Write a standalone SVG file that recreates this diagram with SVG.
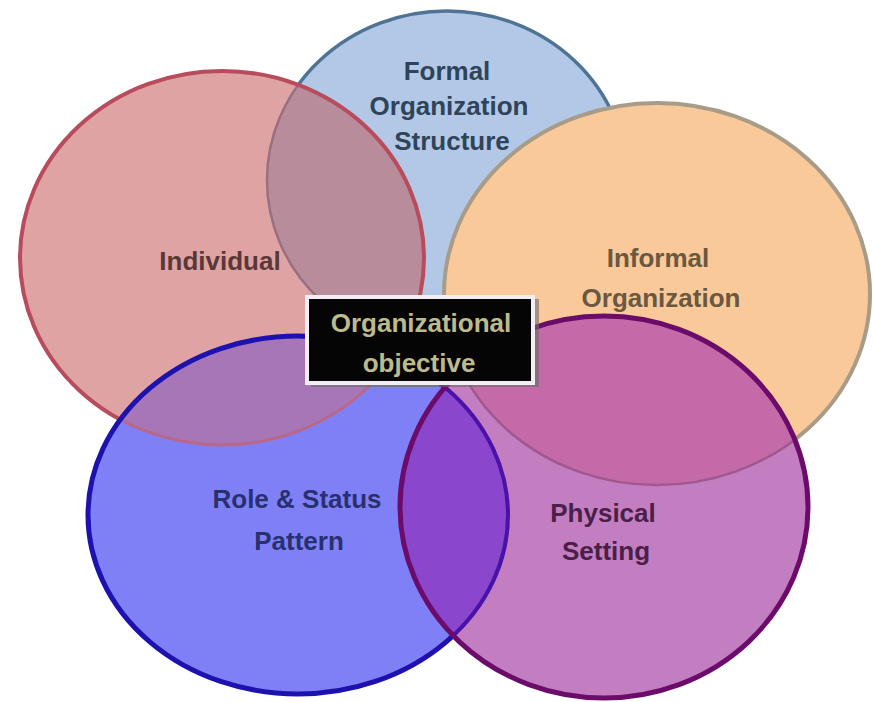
<svg xmlns="http://www.w3.org/2000/svg" width="874" height="702" viewBox="0 0 874 702">
<style>
text{font-family:"Liberation Sans",Arial,sans-serif;font-weight:bold;font-size:26px;text-anchor:middle}
.inner{fill:none}
</style>
<defs>
<clipPath id="cFormal"><ellipse cx="447" cy="180" rx="180" ry="169"/></clipPath>
<clipPath id="cInd"><ellipse cx="222" cy="258" rx="202" ry="187"/></clipPath>
<clipPath id="cInf"><ellipse cx="657" cy="294" rx="213" ry="191"/></clipPath>
<clipPath id="cRole"><ellipse cx="298" cy="515" rx="210" ry="179"/></clipPath>
<clipPath id="cPhys"><ellipse cx="604" cy="507" rx="204" ry="191"/></clipPath>
</defs>
<rect width="874" height="702" fill="#ffffff"/>

<g id="node-formal">
<ellipse cx="447" cy="180" rx="180" ry="169" fill="#b2c8e6" stroke="#4f7395" stroke-width="3.5"/>
<text x="447" y="80" fill="#2f4458">Formal</text>
<text x="449" y="115" fill="#2f4458">Organization</text>
<text x="452" y="150" fill="#2f4458">Structure</text>
</g>

<g id="node-individual">
<ellipse cx="222" cy="258" rx="202" ry="187" fill="#dfa3a3"/>
<ellipse cx="447" cy="180" rx="180" ry="169" fill="#b98c9c" clip-path="url(#cInd)"/>
<ellipse class="inner" cx="447" cy="180" rx="180" ry="169" stroke="#98707f" stroke-width="2.5" clip-path="url(#cInd)"/>
<ellipse cx="222" cy="258" rx="202" ry="187" fill="none" stroke="#b84c5c" stroke-width="4"/>
<text x="220" y="270" fill="#5a3838">Individual</text>
</g>

<g id="node-informal">
<ellipse cx="657" cy="294" rx="213" ry="191" fill="#f9c99a" stroke="#a89c88" stroke-width="4"/>
<text x="658" y="267" fill="#6a5840">Informal</text>
<text x="661" y="307" fill="#6a5840">Organization</text>
</g>

<g id="node-role">
<ellipse cx="298" cy="515" rx="210" ry="179" fill="#8080f6"/>
<ellipse cx="222" cy="258" rx="202" ry="187" fill="#a676b6" clip-path="url(#cRole)"/>
<ellipse class="inner" cx="222" cy="258" rx="202" ry="187" stroke="#c46272" stroke-opacity="0.75" stroke-width="3" clip-path="url(#cRole)"/>
<ellipse cx="298" cy="515" rx="210" ry="179" fill="none" stroke="#1d12b0" stroke-width="5"/>
<text x="297" y="508" fill="#283070">Role &amp; Status</text>
<text x="299" y="550" fill="#283070">Pattern</text>
</g>

<g id="node-physical">
<ellipse cx="604" cy="507" rx="204" ry="191" fill="#c27ec0"/>
<ellipse cx="298" cy="515" rx="210" ry="179" fill="#8a46cc" clip-path="url(#cPhys)"/>
<ellipse cx="657" cy="294" rx="213" ry="191" fill="#c46aa8" clip-path="url(#cPhys)"/>
<ellipse class="inner" cx="657" cy="294" rx="213" ry="191" stroke="#a05890" stroke-width="2.5" clip-path="url(#cPhys)"/>
<ellipse class="inner" cx="298" cy="515" rx="210" ry="179" stroke="#4a12a8" stroke-width="4" clip-path="url(#cPhys)"/>
<ellipse cx="604" cy="507" rx="204" ry="191" fill="none" stroke="#6c0c6a" stroke-width="5"/>
<text x="603" y="522" fill="#4a2048">Physical</text>
<text x="606" y="560" fill="#4a2048">Setting</text>
</g>

<g id="node-objective">
<rect x="311" y="299" width="228" height="88" fill="#6a6a6a" opacity="0.6"/>
<rect x="307" y="297" width="226" height="86" fill="#050505" stroke="#f4eef4" stroke-width="4"/>
<text x="421" y="332" fill="#bdbb8c">Organizational</text>
<text x="419" y="372" fill="#bdbb8c">objective</text>
</g>
<g id="connectors"/>
</svg>
